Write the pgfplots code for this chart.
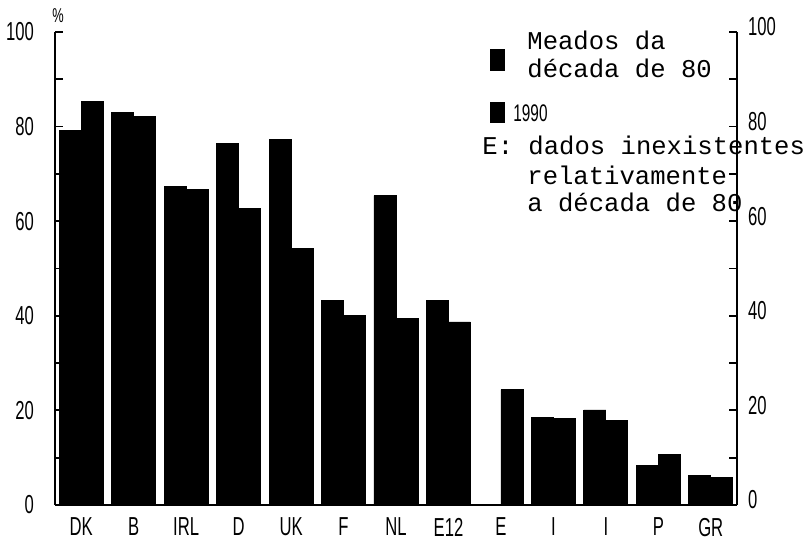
\documentclass[border=0pt]{standalone}
\usepackage{fontspec}
\setmainfont{Liberation Sans}[FakeStretch=0.64]
\newfontfamily\mono{Liberation Mono}
\usepackage{pgfplots}
\pgfplotsset{compat=1.18}
\begin{document}
\begin{tikzpicture}
\path[use as bounding box] (-27.5pt,-22pt) rectangle (377pt,252.5pt);
\begin{axis}[
  at={(0,0)}, anchor=south west,
  scale only axis, width=341pt, height=236.5pt,
  xmin=-0.5, xmax=12.5, ymin=0, ymax=100,
  axis x line*=bottom, axis y line*=left,
  ybar=0pt, bar width=0.42,
  xtick={0,...,12},
  xticklabels={DK,B,IRL,D,UK,F,NL,E12,E,I,I,P,GR},
  x tick style={draw=none},
  ytick={0,20,...,100}, minor ytick={10,30,...,90},
  tick align=inside, major tick length=4pt, minor tick length=4pt,
  axis line style={line width=0.9pt},
  y tick style={line width=0.9pt, black},
  /pgf/number format/assume math mode=true,
  tick label style={font=\fontsize{13}{14}\selectfont},
  yticklabel style={xshift=-7pt},
  xticklabel style={yshift=-3pt},
  clip=false,
]
\addplot[fill=black, draw=black] coordinates {
 (0,79.2) (1,82.9) (2,67.4) (3,76.5) (4,77.3) (5,43.2) (6,65.4) (7,43.3)
 (9,18.5) (10,20.1) (11,8.4) (12,6.2)};
\addplot[fill=black, draw=black] coordinates {
 (0,85.4) (1,82.1) (2,66.7) (3,62.7) (4,54.3) (5,40.1) (6,39.4) (7,38.7)
 (8,24.4) (9,18.3) (10,17.8) (11,10.7) (12,5.9)};
\node[font=\fontsize{10}{11}\selectfont] at (axis cs:-0.5,100) [xshift=1.5pt, yshift=8pt] {\%};
\end{axis}
\begin{axis}[
  at={(0,0)}, anchor=south west,
  scale only axis, width=341pt, height=236.5pt,
  xmin=-0.5, xmax=12.5, ymin=0, ymax=100,
  axis x line=none, axis y line*=right,
  ytick={0,20,...,100}, minor ytick={10,30,...,90},
  tick align=inside, major tick length=4pt, minor tick length=4pt,
  axis line style={line width=0.9pt},
  y tick style={line width=0.9pt, black},
  /pgf/number format/assume math mode=true,
  tick label style={font=\fontsize{13}{14}\selectfont},
  yticklabel style={xshift=2pt, yshift=2.5pt},
]
\end{axis}
% legend
\fill (217.5pt,217pt) rectangle (225pt,228pt);
\fill (217.5pt,191pt) rectangle (225pt,201.5pt);
\node[anchor=west, font=\mono\fontsize{12.8}{14}\selectfont, inner sep=0pt] at (236pt,232.5pt) {Meados da};
\node[anchor=west, font=\mono\fontsize{12.8}{14}\selectfont, inner sep=0pt] at (236pt,218.5pt) {década de 80};
\node[anchor=west, font=\fontsize{12}{13}\selectfont, inner sep=0pt] at (229pt,196pt) {1990};
\node[anchor=west, font=\mono\fontsize{12.8}{14}\selectfont, inner sep=0pt] at (213.5pt,180pt) {E: dados inexistentes};
\node[anchor=west, font=\mono\fontsize{12.8}{14}\selectfont, inner sep=0pt] at (236pt,165pt) {relativamente};
\node[anchor=west, font=\mono\fontsize{12.8}{14}\selectfont, inner sep=0pt] at (236pt,151.5pt) {a década de 80};
\end{tikzpicture}
\end{document}
